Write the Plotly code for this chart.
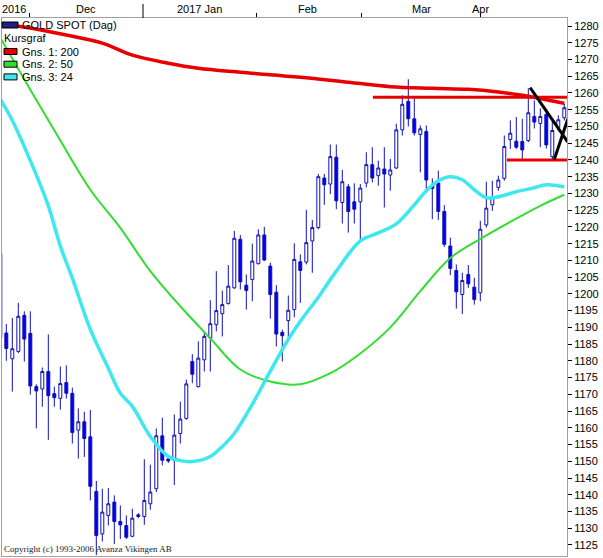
import plotly.graph_objects as go

# daily candles, index 0..94 (left to right)
opens = [1212, 1188.3, 1180.6, 1182.8, 1193.6, 1188.2, 1172.3, 1171.6, 1176.8, 1170.2,
         1168.8, 1173.5, 1170.3, 1159.3, 1161.8, 1157.3, 1141, 1128.3, 1133.8, 1137.8,
         1132, 1130.8, 1127.6, 1133.5, 1133.5, 1137.3, 1141.8, 1157.6, 1150.7, 1150.3,
         1158.3, 1162.8, 1179.8, 1172.3, 1180.3, 1186.8, 1190.8, 1194.1, 1197.1, 1201.8,
         1216.3, 1202.6, 1204.3, 1209, 1217.6, 1208.3, 1200.5, 1188.5, 1192, 1195.3,
         1209.6, 1209.5, 1215.8, 1219.8, 1234.6, 1232.8, 1240.8, 1227.3, 1232, 1227.5,
         1227.5, 1233.1, 1238.6, 1235.3, 1237.3, 1235.5, 1237.6, 1249, 1257.5, 1252.3,
         1247.6, 1248.5, 1232.5, 1233.1, 1224.6, 1214.3, 1207, 1199.8, 1205.8, 1202,
         1200.3, 1220.6, 1226.6, 1231.8, 1234.5, 1246.1, 1245.6, 1245.5, 1245.8, 1253,
         1250.9, 1253.6, 1241, 1249.7, 1252.6]
highs = [1213, 1191, 1192.8, 1197.3, 1194.8, 1194.8, 1173, 1178, 1187.9, 1172.3,
         1178.3, 1178.6, 1172, 1165.8, 1164.8, 1165.3, 1144.1, 1141.8, 1142, 1139.8,
         1136.8, 1133.8, 1135.8, 1134.5, 1150.6, 1149, 1159.8, 1163, 1151, 1164,
         1167.8, 1174.4, 1182, 1185.8, 1188.8, 1198.1, 1206.8, 1201, 1208.6, 1218.8,
         1217.6, 1205.8, 1215, 1219.3, 1220, 1209.3, 1202.6, 1189.3, 1199.5, 1215.1,
         1211.8, 1225.1, 1222.1, 1235.8, 1235.8, 1244.6, 1244.6, 1237, 1232.8, 1233,
         1232.8, 1242.3, 1243.8, 1239.8, 1243.8, 1240.3, 1250.8, 1259.3, 1264.1, 1259,
         1250.3, 1250.3, 1234.5, 1236.8, 1226.5, 1216.8, 1208.8, 1206.3, 1208.6, 1204.8,
         1221.8, 1233.5, 1233.8, 1235.3, 1247.3, 1251.8, 1252.8, 1252.3, 1261.4, 1257.8,
         1255.4, 1254.5, 1252.3, 1253.3, 1256.8]
lows = [1186, 1180, 1170.8, 1182.3, 1179.8, 1169.9, 1159.8, 1166.3, 1156.4, 1166.3,
        1165.4, 1168.7, 1155.3, 1150.8, 1151.3, 1138.3, 1122, 1126, 1130.8, 1125.3,
        1126.8, 1126.8, 1127.3, 1133, 1131, 1135.5, 1140.8, 1148.8, 1149.5, 1142.9,
        1155.3, 1162.4, 1173.3, 1172, 1176.8, 1176.8, 1188.8, 1187.3, 1196.8, 1201.5,
        1201.3, 1195.3, 1197.8, 1208.8, 1209.8, 1192.6, 1184.3, 1179.8, 1186.8, 1193,
        1197.3, 1208.8, 1206.3, 1219.3, 1226.6, 1229.8, 1225.3, 1221, 1218.3, 1221,
        1216, 1231.8, 1233.3, 1232.3, 1225.8, 1230.8, 1237.3, 1247.3, 1250, 1247.3,
        1236.3, 1230.3, 1222.3, 1222.1, 1214, 1205.6, 1195.6, 1194, 1201.8, 1196.8,
        1197.8, 1219.8, 1224.8, 1230.8, 1233.8, 1243.3, 1243.3, 1240.3, 1245.3, 1249.4,
        1243.8, 1243.4, 1239.8, 1248.6, 1251.8]
closes = [1187, 1183.7, 1183.6, 1193.3, 1186.5, 1172.5, 1171, 1176.8, 1169.6, 1169,
          1173.2, 1170.3, 1158.6, 1161.8, 1156.8, 1142.5, 1127.8, 1134.8, 1137.3, 1132,
          1131, 1127.3, 1133, 1134, 1138.3, 1140.8, 1157.6, 1150.3, 1150.1, 1157.8,
          1162.6, 1173.1, 1176, 1180.8, 1187.3, 1191.1, 1195, 1196.8, 1202.3, 1216.6,
          1203.6, 1201, 1209.8, 1217.6, 1210.1, 1199.8, 1188, 1187.5, 1195.1, 1210.3,
          1207, 1215.3, 1219.8, 1235, 1232.6, 1241, 1227.8, 1233.5, 1224.6, 1225.3,
          1231.6, 1238.6, 1234.6, 1237.6, 1235.8, 1237, 1249, 1256.6, 1252.3, 1248.1,
          1249.3, 1234, 1231.5, 1224.6, 1214.8, 1207.6, 1200.6, 1204, 1203, 1198.3,
          1219.3, 1225.6, 1228.8, 1234, 1244, 1248, 1243.8, 1243, 1254.1, 1251.3,
          1253, 1244.5, 1248.8, 1252, 1255.6]
days = list(range(len(closes)))

# moving averages
ma200_x = [0, 5, 11, 17, 22, 28, 33, 40, 50, 58, 65, 72, 78, 83, 87, 91, 94]
ma200_y = [1280.6, 1279.4, 1277.3, 1274.9, 1271.3, 1268.9, 1267.4, 1266.2, 1264.7,
           1263.2, 1261.9, 1261.4, 1261.1, 1260.3, 1259.3, 1258, 1256.9]
ma50_x = [0, 5, 10, 15, 20, 25, 30, 35, 40, 45, 50, 55, 60, 65, 70, 75, 80, 85, 90, 94]
ma50_y = [1276.5, 1261, 1245.8, 1231.1, 1219.7, 1206.8, 1196.3, 1186.7, 1177.4, 1173.8,
          1173, 1176.3, 1182.2, 1190, 1200.8, 1210.7, 1216.4, 1221.5, 1226.3, 1229.6]
ma24_x = [0, 2, 5, 8, 10, 12, 15, 18, 20, 22, 25, 28, 30, 32, 35, 37, 39, 42, 45, 48,
          50, 53, 56, 60, 63, 66, 69, 71, 73, 75, 77, 79, 81, 83, 86, 89, 91, 94]
ma24_y = [1258.1, 1251.8, 1239.8, 1226.3, 1214.3, 1204.7, 1189.4, 1177.8, 1170.3, 1166.4,
          1157.4, 1151.4, 1150.2, 1149.9, 1151.4, 1154.4, 1158.3, 1167, 1176.9, 1186.4,
          1191.8, 1199, 1206.8, 1215.8, 1218.2, 1220.9, 1226.6, 1230.8, 1233.8, 1235,
          1234.1, 1231.1, 1228.7, 1229, 1230.5, 1231.7, 1232.6, 1232]

# hand drawn lines on the chart
support_lines = [(62.1, 94.5, 1258.7), (84.45, 94.5, 1240.0)]
trend_lines = [((88.3, 1261.6), (94.6, 1245.3)), ((92.3, 1240.0), (94.6, 1252.3))]

month_ticks = [4.78, 42.78, 60.12, 80.1]
year_tick = 23.78
month_labels = ["Dec", "2017 Jan", "Feb", "Mar", "Apr"]
month_label_pos = [14.28, 33.28, 51.28, 70.2, 80.1]

legend_rows = [("Gns. 1: 200", "#e80000"), ("Gns. 2: 50", "#33dd33"), ("Gns. 3: 24", "#3ee8ee")]

# plot area in pixels: x 2..567, y 18..556
def px_x(p):
    return (p - 2) / 565.0

def px_y(p):
    return 1 - (p - 18) / 538.0

fig = go.Figure()

fig.add_trace(go.Candlestick(
    x=days, open=opens, high=highs, low=lows, close=closes,
    increasing=dict(line=dict(color="#1010b0", width=1), fillcolor="white"),
    decreasing=dict(line=dict(color="#1010b0", width=1), fillcolor="#0000f0"),
    whiskerwidth=0, hoverinfo="skip", showlegend=False,
))
fig.add_trace(go.Scatter(x=ma200_x, y=ma200_y, mode="lines", line=dict(color="#e80000", width=3.5, shape="spline"),
                         hoverinfo="skip", showlegend=False))
fig.add_trace(go.Scatter(x=ma50_x, y=ma50_y, mode="lines", line=dict(color="#33dd33", width=2, shape="spline"),
                         hoverinfo="skip", showlegend=False))
fig.add_trace(go.Scatter(x=ma24_x, y=ma24_y, mode="lines", line=dict(color="#3ee8ee", width=3.5, shape="spline"),
                         hoverinfo="skip", showlegend=False))

shapes = []
for x0, x1, lvl in support_lines:
    shapes.append(dict(type="line", xref="x", yref="y", x0=x0, x1=x1, y0=lvl, y1=lvl,
                       line=dict(color="#e80000", width=3), layer="above"))
for (xa, ya), (xb, yb) in trend_lines:
    shapes.append(dict(type="line", xref="x", yref="y", x0=xa, y0=ya, x1=xb, y1=yb,
                       line=dict(color="black", width=3), layer="above"))
# long tick at the year change
shapes.append(dict(type="line", xref="x", yref="paper", x0=year_tick, x1=year_tick,
                   y0=1, y1=px_y(4), line=dict(color="black", width=1)))

annotations = []
font = dict(family="Liberation Sans", size=11, color="black")
annotations.append(dict(text="2016", xref="paper", yref="paper", x=px_x(0), y=px_y(9),
                        xanchor="left", yanchor="middle", showarrow=False, font=font))
for lab, pos in zip(month_labels, month_label_pos):
    annotations.append(dict(text=lab, xref="x", yref="paper", x=pos, y=px_y(9),
                            xanchor="center", yanchor="middle", showarrow=False, font=font))

# legend box, top left
shapes.append(dict(type="rect", xref="paper", yref="paper", x0=px_x(2), x1=px_x(18),
                   y0=px_y(28), y1=px_y(22), fillcolor="#202080", line=dict(color="black", width=1)))
annotations.append(dict(text="GOLD SPOT (Dag)", xref="paper", yref="paper", x=px_x(20), y=px_y(25),
                        xanchor="left", yanchor="middle", showarrow=False, font=font))
annotations.append(dict(text="Kursgraf", xref="paper", yref="paper", x=px_x(2), y=px_y(38.5),
                        xanchor="left", yanchor="middle", showarrow=False, font=font))
for i, (lab, col) in enumerate(legend_rows):
    yc = 51.5 + 12.7 * i
    shapes.append(dict(type="rect", xref="paper", yref="paper", x0=px_x(4), x1=px_x(17),
                       y0=px_y(yc + 3), y1=px_y(yc - 3), fillcolor=col, line=dict(color="black", width=1)))
    annotations.append(dict(text=lab, xref="paper", yref="paper", x=px_x(20), y=px_y(yc),
                            xanchor="left", yanchor="middle", showarrow=False, font=font))

annotations.append(dict(text="Copyright (c) 1993-2006 Avanza Vikingen AB", xref="paper", yref="paper",
                        x=px_x(2), y=px_y(549), xanchor="left", yanchor="middle", showarrow=False,
                        font=dict(family="Liberation Serif", size=9, color="#222222")))

fig.update_layout(
    width=603, height=558,
    margin=dict(l=2, r=36, t=18, b=2),
    paper_bgcolor="white", plot_bgcolor="white",
    shapes=shapes, annotations=annotations,
    xaxis=dict(range=[0.28, 94.45], side="top", tickvals=month_ticks, ticks="outside", ticklen=4,
               tickcolor="black", showticklabels=False, showgrid=False, zeroline=False,
               showline=True, linecolor="#a0a0a0", mirror=True, rangeslider=dict(visible=False)),
    yaxis=dict(range=[1121.7, 1282.4], side="right", dtick=5, tick0=1125, ticks="outside", ticklen=4,
               tickcolor="black", showgrid=False, zeroline=False, showline=True, linecolor="#a0a0a0",
               mirror=True, tickfont=dict(family="Liberation Sans", size=11, color="black")),
)

# page body has a default margin, drop it so the figure sits at 0,0
fig.write_html("out.html", config={"displayModeBar": False},
               post_script="document.body.style.margin='0';")
